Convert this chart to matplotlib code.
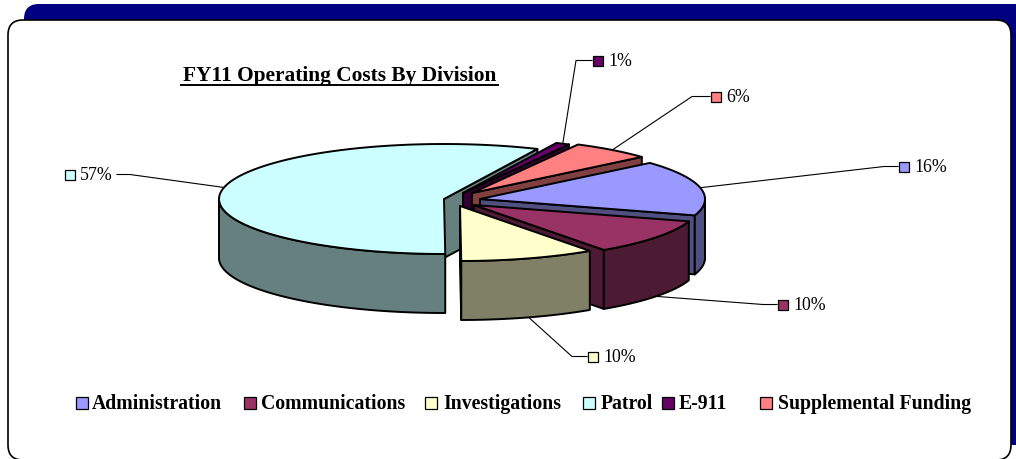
import numpy as np
import matplotlib
matplotlib.use("Agg", force=True)
import matplotlib.pyplot as plt
from matplotlib.patches import FancyBboxPatch, Polygon, Rectangle

categories = ["Administration", "Communications", "Investigations", "Patrol", "E-911", "Supplemental Funding"]
# labels are rounded, the slice sizes in the picture give the decimals
shares = [16.2, 10.4, 9.7, 56.9, 1.0, 5.8]
title = "FY11 Operating Costs By Division"

top_colors = ["#9999FF", "#993366", "#FFFFCC", "#CCFFFF", "#660066", "#FF8080"]
side_colors = ["#4F4F80", "#4D1A33", "#808066", "#668080", "#330033", "#804040"]

# pie layout, in pixels of the output image
START_ANGLE = 41.0
RX, RY, DEPTH = 225.0, 55.0, 59.0
APEXES = [(480, 200), (474, 206), (460, 207), (444, 200), (463, 194), (472, 194)]
DRAW_ORDER = [3, 4, 5, 0, 1, 2]
ELBOWS = [(884, 167.5), (763, 305.5), (572, 357.5), (130, 175.5), (576, 61.5), (692, 97.5)]
KEY_X = [904, 783, 593, 70, 598, 716]
LEGEND_BOX_X = [82, 250, 431, 589, 668, 766]
LEGEND_TEXT_X = [92, 261, 443, 601, 679, 778]

SERIF = "Liberation Serif"


def arc(center, a0, a1, dy=0.0, n=80):
    t = np.radians(np.linspace(a0, a1, n))
    return np.column_stack([center[0] + RX * np.cos(t), center[1] - RY * np.sin(t) + dy])


def draw_slice(ax, center, a1, a0, top, side, z):
    # a1 is the clockwise edge angle, a0 the counter-clockwise one (a1 < a0)
    kw = dict(edgecolor="black", linewidth=1.4, joinstyle="round", zorder=z)
    # cut face on the clockwise edge
    if np.cos(np.radians(a1)) > 0:
        edge = arc(center, a1, a1, n=1)[0]
        face = [center, edge, edge + [0, DEPTH], np.array(center) + [0, DEPTH]]
        ax.add_patch(Polygon(face, closed=True, facecolor=side, **kw))
    # outer wall, only the part facing the viewer (lower half of the ellipse)
    for shift in (0.0, -360.0):
        lo, hi = max(a1 + shift, -180.0), min(a0 + shift, 0.0)
        if hi > lo:
            upper = arc(center, lo, hi)
            lower = arc(center, hi, lo, dy=DEPTH)
            ax.add_patch(Polygon(np.vstack([upper, lower]), closed=True, facecolor=side, **kw))
    # top
    pts = np.vstack([[center], arc(center, a1, a0)])
    ax.add_patch(Polygon(pts, closed=True, facecolor=top, **kw))


fig = plt.figure(figsize=(10.16, 4.6), dpi=100)
ax = fig.add_axes([0, 0, 1, 1])
ax.set_xlim(0, 1016)
ax.set_ylim(460, 0)
ax.axis("off")

# page frame
ax.add_patch(FancyBboxPatch((39, 20), 1000, 411, boxstyle="round,pad=15,rounding_size=15",
                            facecolor="#000080", edgecolor="none", zorder=0))
ax.add_patch(FancyBboxPatch((23, 36), 973, 410, boxstyle="round,pad=15,rounding_size=15",
                            facecolor="white", edgecolor="black", linewidth=1.2, zorder=1))

ax.text(340, 76.5, title, family=SERIF, fontsize=15.4, fontweight="bold", ha="center", va="center", zorder=5)
ax.plot([181, 498], [85.5, 85.5], color="black", linewidth=1.4, zorder=5)

spans = np.array(shares, dtype=float) / sum(shares) * 360.0
edges = START_ANGLE - np.concatenate([[0], np.cumsum(spans)])

for rank, i in enumerate(DRAW_ORDER):
    draw_slice(ax, APEXES[i], edges[i + 1], edges[i], top_colors[i], side_colors[i], 10 + rank)

# leader lines and value keys
for i, share in enumerate(shares):
    mid = np.radians((edges[i] + edges[i + 1]) / 2.0)
    x0 = APEXES[i][0] + RX * np.cos(mid)
    y0 = APEXES[i][1] - RY * np.sin(mid) + (DEPTH if np.sin(mid) < 0 else 0)
    ex, ey = ELBOWS[i]
    kx = KEY_X[i]
    stub = kx - 6 if kx > ex else kx + 47
    ax.plot([x0, ex, stub], [y0, ey, ey], color="black", linewidth=0.8, zorder=5)
    ax.add_patch(Rectangle((kx - 5, ey - 5), 10, 10, facecolor=top_colors[i], edgecolor="black",
                           linewidth=0.9, zorder=6))
    ax.text(kx + 10, ey, f"{share:.0f}%", family=SERIF, fontsize=12.8, ha="left", va="center", zorder=6)

# legend
for name, color, bx, tx in zip(categories, top_colors, LEGEND_BOX_X, LEGEND_TEXT_X):
    ax.add_patch(Rectangle((bx - 6, 397.5), 12, 12, facecolor=color, edgecolor="black", linewidth=0.9, zorder=6))
    ax.text(tx, 404, name, family=SERIF, fontsize=14.2, fontweight="bold", ha="left", va="center", zorder=6)

fig.savefig("out.png", dpi=100)
plt.close(fig)
